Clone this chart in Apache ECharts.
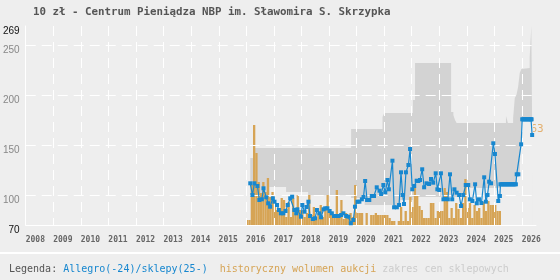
<!DOCTYPE html>
<html>
<head>
<meta charset="utf-8">
<script src="https://cdn.jsdelivr.net/npm/echarts@6/dist/echarts.min.js"></script>
<style>
html, body { margin: 0; padding: 0; background: #eeeeee; }
#chart { width: 560px; height: 280px; }
</style>
</head>
<body>
<div id="chart"></div>
<script>
// zakres cen sklepowych (step, x = rok dziesiętny)
const bandX    = [2016.15, 2016.30, 2016.85, 2017.45, 2018.25, 2019.81, 2020.30, 2020.95, 2021.01, 2021.60, 2022.05, 2022.13, 2023.44, 2023.52, 2023.58, 2023.64, 2023.97, 2025.23, 2025.43, 2025.50, 2025.69, 2025.75, 2025.81, 2025.87, 2025.93, 2025.96, 2025.99, 2026.02, 2026.05, 2026.29, 2026.35, 2026.41]
const bandHigh = [137, 147, 147, 147, 147, 166, 166, 178, 182, 182, 195, 232, 183, 180, 175, 172, 172, 172, 179, 172, 177, 197, 200, 208, 222, 222, 226, 226, 227, 237, 269, 269]
const bandLow  = [100, 100, 108, 103, 100, 97, 90, 90, 90, 95, 98, 98, 98, 98, 98, 98, 107, 110.7, 110.7, 110.7, 110.7, 110.7, 120.7, 120.7, 120.7, 150.7, 150.7, 175.7, 175.7, 175.7, 175.7, 175.7]

// historyczny wolumen aukcji, miesięcznie od 2016-01 (0 = brak)
const volStart = 2016
const volValues = [
  5, 5, 40, 100, 72, 43, 32, 43, 33, 47, 28, 33,
  25, 15, 15, 27, 25, 8, 23, 8, 27, 12, 30, 15,
  15, 8, 12, 30, 10, 18, 8, 12, 20, 8, 15, 30,
  15, 12, 10, 35, 8, 25, 6, 12, 8, 12, 8, 40,
  12, 12, 12, 0, 12, 0, 10, 10, 12, 10, 10, 10,
  10, 10, 7, 4, 4, 0, 4, 18, 4, 14, 4, 28,
  18, 37, 30, 19, 15, 7, 7, 7, 22, 22, 7, 14,
  14, 14, 37, 33, 7, 17, 7, 22, 16, 7, 22, 46,
  17, 22, 7, 20, 14, 17, 7, 23, 14, 24, 20, 20,
  20, 14, 14
]

// Allegro(-24)/sklepy(25-)
const priceX = [
  2016.15, 2016.23, 2016.30, 2016.41, 2016.48, 2016.57, 2016.63, 2016.73, 2016.80, 2016.87, 2016.97,
  2017.03, 2017.12, 2017.19, 2017.26, 2017.35, 2017.43, 2017.51, 2017.60, 2017.67, 2017.75, 2017.82, 2017.86, 2017.99,
  2018.04, 2018.12, 2018.19, 2018.26, 2018.32, 2018.42, 2018.50, 2018.57, 2018.66, 2018.72, 2018.81, 2018.87, 2018.95,
  2019.03, 2019.11, 2019.19, 2019.28, 2019.36, 2019.45, 2019.53, 2019.63, 2019.71, 2019.80, 2019.89, 2019.95,
  2020.04, 2020.11, 2020.20, 2020.26, 2020.32, 2020.39, 2020.47, 2020.56, 2020.64, 2020.74, 2020.84, 2020.90, 2020.98,
  2021.05, 2021.13, 2021.18, 2021.31, 2021.37, 2021.47, 2021.55, 2021.62, 2021.68, 2021.73, 2021.80, 2021.89, 2021.95,
  2022.03, 2022.10, 2022.19, 2022.25, 2022.31, 2022.39, 2022.46, 2022.55, 2022.64, 2022.71, 2022.79, 2022.88, 2022.94,
  2023.01, 2023.07, 2023.16, 2023.24, 2023.32, 2023.40, 2023.48, 2023.56, 2023.64, 2023.73, 2023.80, 2023.88, 2023.97,
  2024.06, 2024.12, 2024.21, 2024.31, 2024.37, 2024.45, 2024.54, 2024.64, 2024.70, 2024.76, 2024.82, 2024.89, 2024.97,
  2025.03, 2025.15, 2025.21,
  2025.23, 2025.27, 2025.31, 2025.35, 2025.39, 2025.43, 2025.47, 2025.51, 2025.55, 2025.59, 2025.63, 2025.67, 2025.71, 2025.75, 2025.79,
  2025.82, 2025.88, 2025.98,
  2026.02, 2026.06, 2026.10, 2026.14, 2026.18, 2026.22, 2026.26, 2026.30, 2026.34, 2026.36,
  2026.38
]
const priceY = [
  111.7, 100, 111.7, 109, 95, 95.7, 106.7, 97.7, 91.7, 88.3, 96.7,
  93.3, 90, 85, 81.7, 81.7, 84, 90, 96.7, 98.3, 85, 81.7, 85.7, 78.3,
  90, 83.3, 88, 93.3, 79, 76, 76.7, 85, 81.7, 77.7, 85.7, 86.7, 86.7,
  84, 81.7, 79, 79, 79, 80, 81.7, 79, 78.3, 71.7, 75, 88.3,
  93.3, 93.3, 95.7, 98, 114, 95, 95, 99, 99, 107.7, 104.3, 101, 110,
  102.7, 115, 105.7, 134.3, 87.7, 87.7, 90, 122.7, 100, 91, 122.7, 130, 146,
  105.7, 109, 114.3, 114, 115, 125.7, 107.7, 111.7, 111, 116, 112.3, 121.7, 105.7,
  105, 121.7, 95.7, 96, 95.7, 120.7, 95.7, 105.7, 102.3, 100, 89, 100, 110,
  110, 95.7, 94, 110.7, 91.7, 95.7, 92, 117.7, 93.3, 100, 113.3, 111.7, 151.7,
  141, 94, 99,
  110.7, 110.7, 110.7, 110.7, 110.7, 110.7, 110.7, 110.7, 110.7, 110.7, 110.7, 110.7, 110.7, 110.7, 110.7,
  120.7, 120.7, 150.7,
  175.7, 175.7, 175.7, 175.7, 175.7, 175.7, 175.7, 175.7, 175.7, 175.7,
  160
]

const yLabelValues = [70, 100, 150, 200, 250, 269]
const yGridValues = [100, 150, 200, 250]
const xGridYears = [2009, 2010, 2011, 2012, 2013, 2014, 2015, 2016, 2017, 2018, 2019, 2020, 2021, 2022, 2023, 2024, 2025, 2026]
const lastLabel = { x: 2026.08, y: 166, text: '163' }

const X_MIN = 2008, X_MAX = 2026.52, Y_MIN = 70, Y_MAX = 269
const BG = '#eeeeee'
const chart = echarts.init(document.getElementById('chart'))

const zip = (xs, ys) => xs.map((x, i) => [x, ys[i]])
const volData = volValues.map((v, i) => [volStart + (i + 0.5) / 12, v])

const gridLineStyle = { stroke: '#ffffff', lineWidth: 1, lineDash: [10, 6] }

const option = {
    backgroundColor: BG,
    animation: false,
    title: {
        text: '10 zł - Centrum Pieniądza NBP im. Sławomira S. Skrzypka',
        left: 28,
        top: 2,
        textStyle: {
            fontFamily: 'DejaVu Sans Mono',
            fontSize: 10.8,
            fontWeight: 'bold',
            color: '#555'
        }
    },
    grid: { left: 25, right: 24, top: 26, bottom: 55 },
    xAxis: {
        type: 'value',
        min: X_MIN,
        max: X_MAX,
        interval: 1,
        axisLine: { lineStyle: { color: '#fff', width: 1 } },
        axisTick: { show: false },
        splitLine: { show: false },
        axisLabel: {
            align: 'left',
            margin: 11,
            showMaxLabel: false,
            color: '#666',
            fontFamily: 'DejaVu Sans Mono',
            fontWeight: 'bold',
            fontSize: 8,
            formatter: v => String(v)
        }
    },
    yAxis: [
        {
            type: 'value',
            min: Y_MIN,
            max: Y_MAX,
            interval: 10,
            axisLine: { show: true, lineStyle: { color: '#fff', width: 1 } },
            axisTick: { show: false },
            splitLine: { show: false },
            axisLabel: {
                showMaxLabel: true,
                showMinLabel: true,
                margin: 6,
                verticalAlign: 'top',
                fontFamily: 'Liberation Sans',
                fontSize: 10,
                color: '#888',
                formatter: v => {
                    if (!yLabelValues.includes(v)) return ''
                    if (v === 70 || v === 269) return '{k|' + v + '}'
                    return String(v)
                },
                rich: { k: { color: '#111', fontFamily: 'Liberation Sans', fontSize: 10 } }
            }
        },
        { type: 'value', min: 0, max: 199, show: false }
    ],
    series: [
        {
            name: 'label',
            type: 'scatter',
            data: [[lastLabel.x, lastLabel.y]],
            symbolSize: 0,
            z: 2,
            silent: true,
            label: {
                show: true,
                position: 'inside',
                align: 'left',
                verticalAlign: 'middle',
                color: '#e0a050',
                fontFamily: 'DejaVu Sans Mono',
                fontSize: 11,
                formatter: lastLabel.text
            }
        },
        {
            name: 'zakres cen sklepowych',
            type: 'line',
            step: 'end',
            data: zip(bandX, bandHigh),
            symbol: 'none',
            lineStyle: { width: 0, opacity: 0 },
            areaStyle: { color: '#d3d3d3', opacity: 1, origin: 'start' },
            z: 3,
            silent: true
        },
        {
            name: 'zakres-dol',
            type: 'line',
            step: 'end',
            data: zip(bandX, bandLow),
            symbol: 'none',
            lineStyle: { width: 0, opacity: 0 },
            areaStyle: { color: BG, opacity: 1, origin: 'start' },
            z: 3,
            silent: true
        },
        {
            name: 'historyczny wolumen aukcji',
            type: 'bar',
            yAxisIndex: 1,
            data: volData,
            barWidth: '100%',
            itemStyle: { color: '#d6a455' },
            z: 4,
            silent: true
        },
        {
            name: 'siatka-x',
            type: 'custom',
            data: xGridYears.map(y => [y]),
            z: 5,
            silent: true,
            clip: false,
            renderItem: (params, api) => {
                const a = api.coord([api.value(0), Y_MIN])
                const b = api.coord([api.value(0), Y_MAX])
                const x = Math.round(a[0]) + 0.5
                return { type: 'line', shape: { x1: x, y1: b[1], x2: x, y2: a[1] }, style: gridLineStyle }
            }
        },
        {
            name: 'siatka-y',
            type: 'custom',
            data: yGridValues.map(v => [X_MIN, v]),
            z: 5,
            silent: true,
            clip: false,
            renderItem: (params, api) => {
                const a = api.coord([X_MIN, api.value(1)])
                const b = api.coord([X_MAX, api.value(1)])
                const y = Math.round(a[1]) + 0.5
                return { type: 'line', shape: { x1: a[0], y1: y, x2: b[0], y2: y }, style: gridLineStyle }
            }
        },
        {
            name: 'Allegro(-24)/sklepy(25-)',
            type: 'line',
            data: zip(priceX, priceY),
            symbol: 'rect',
            symbolSize: 4,
            lineStyle: { color: '#1787cf', width: 1.2 },
            itemStyle: { color: '#1787cf' },
            z: 6,
            silent: true
        }
    ],
    graphic: [
        {
            type: 'rect',
            left: 0,
            top: 252,
            shape: { width: 560, height: 2 },
            style: { fill: '#ffffff' },
            silent: true
        },
        {
            type: 'text',
            left: 9,
            top: 264,
            silent: true,
            style: {
                text: '{a|Legenda: }{b|Allegro(-24)/sklepy(25-)}{c|  historyczny wolumen aukcji}{d| zakres cen sklepowych}',
                rich: {
                    a: { fontFamily: 'DejaVu Sans Mono', fontSize: 10, fill: '#555' },
                    b: { fontFamily: 'DejaVu Sans Mono', fontSize: 10, fill: '#1787cf' },
                    c: { fontFamily: 'DejaVu Sans Mono', fontSize: 10, fill: '#d6a455' },
                    d: { fontFamily: 'DejaVu Sans Mono', fontSize: 10, fill: '#cccccc' }
                }
            }
        }
    ]
}

chart.setOption(option)
</script>
</body>
</html>
